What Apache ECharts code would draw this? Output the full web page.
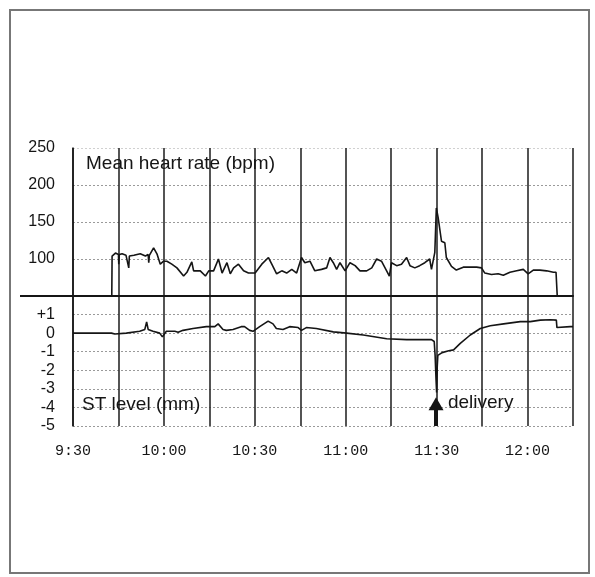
<!DOCTYPE html>
<html>
<head>
  <meta charset="utf-8" />
  <script src="https://cdn.jsdelivr.net/npm/echarts@6/dist/echarts.min.js"></script>
  <style>
    html, body {
      margin: 0;
      padding: 0;
      background: #fff;
    }
    .paper {
      position: absolute;
      left: 9px;
      top: 9px;
      width: 577px;
      height: 561px;
      border: 2px solid #777;
    }
    #main {
      position: absolute;
      left: 0;
      top: 0;
      width: 595px;
      height: 577px;
    }
  </style>
  <title>Heart rate and ST level</title>
</head>
<body>
  <div class="paper"></div>
  <div id="main"></div>
  <script>
    // minutes after 9:30
    var hrTime = [12.8, 12.9, 14.0, 15.0, 15.1, 15.3, 16.2, 17.5, 18.4, 18.6, 20.1, 22.2, 23.9, 24.8, 25.0, 25.2,
      26.6, 27.7, 28.8, 29.9, 31.0, 32.6, 34.3, 36.5, 37.6, 39.2, 39.8, 42.0, 43.7, 44.8, 46.4, 48.0,
      49.2, 50.8, 51.9, 53.0, 54.6, 56.3, 57.9, 60.1, 62.3, 64.5, 65.6, 67.2, 68.9, 70.5, 72.2, 73.8,
      75.4, 76.5, 78.2, 79.8, 82.0, 83.7, 84.8, 85.9, 87.0, 88.1, 89.8, 91.4, 93.1, 94.7, 96.9, 98.6,
      100.2, 101.8, 103.5, 104.4, 105.1, 106.8, 108.4, 110.1, 111.2, 112.8, 114.4, 116.1, 117.7, 118.3,
      119.4, 119.9, 120.5, 121.6, 122.7, 123.2, 124.9, 126.5, 128.8, 131.0, 133.2, 134.8, 135.9, 138.1,
      140.3, 142.0, 144.2, 146.4, 148.6, 150.2, 151.9, 154.1, 156.3, 158.5, 159.4, 159.8];
    var hrValue = [50, 104, 108, 106, 93, 106, 107, 105, 88, 104, 105, 107, 104, 106, 95, 105,
      115, 107, 93, 97, 97, 93, 88, 77, 82, 96, 84, 84, 77, 84, 84, 100,
      81, 95, 80, 88, 93, 84, 81, 81, 93, 102, 93, 80, 84, 81, 86, 81,
      102, 95, 97, 84, 86, 88, 102, 95, 86, 95, 84, 95, 91, 84, 84, 88,
      100, 97, 84, 77, 95, 91, 93, 102, 91, 88, 91, 95, 100, 86,
      109, 169, 156, 124, 122, 102, 90, 85, 89, 89, 89, 88, 81, 79,
      80, 78, 82, 84, 86, 80, 85, 85, 84, 82, 82, 50];

    var stTime = [0, 12.7, 13.8, 17.6, 22, 23.7, 24.3, 24.8, 26.4, 28.6, 29.5, 30.8, 33.6, 34.7, 36.3, 39.6,
      44, 46.8, 47.9, 49.5, 50.6, 52.8, 55.5, 56.6, 58.3, 59.4, 61.6, 64.4, 66, 67.1, 69.3, 71.5,
      74.3, 75.4, 77, 80.3, 85.9, 90.3, 95.8, 103.5, 110.1, 114.5, 118.3, 119.2, 119.5, 119.8,
      120.0, 120.2, 120.4, 121.8, 124, 125.6, 127.8, 131.1, 134.4, 137.7, 142.1, 147.6, 150.9, 154.2,
      157.5, 159.5, 159.7, 164.1, 165];
    var stValue = [0, 0, -0.05, 0, 0.1, 0.2, 0.6, 0.2, 0.1, 0, -0.2, 0.1, 0.1, 0.05, 0.15, 0.25,
      0.35, 0.35, 0.5, 0.2, 0.15, 0.2, 0.35, 0.35, 0.15, 0.1, 0.35, 0.65, 0.5, 0.25, 0.2, 0.35,
      0.3, 0.15, 0.3, 0.25, 0.07, 0, -0.1, -0.3, -0.35, -0.35, -0.35, -0.45, -1.2, -2.5,
      -3.2, -1.8, -1.2, -1.05, -0.95, -0.9, -0.55, -0.1, 0.25, 0.4, 0.5, 0.62, 0.62, 0.7,
      0.72, 0.7, 0.3, 0.35, 0.35];

    var hrTicks = [50, 250, 50];   // min, max, step
    var stTicks = [-5, 2, 1];
    var deliveryAt = 119.8;

    function pairs(xs, ys) {
      var out = [];
      for (var i = 0; i < xs.length; i++) out.push([xs[i], ys[i]]);
      return out;
    }

    function clock(v) {
      var m = 9 * 60 + 30 + v;
      var h = Math.floor(m / 60), mm = m % 60;
      return h + ':' + (mm < 10 ? '0' : '') + mm;
    }

    var ink = '#151515';
    var dotted = '#9a9a9a';

    var xBase = {
      type: 'value',
      min: 0,
      max: 165,
      interval: 15,
      axisTick: { show: false },
      splitLine: { show: true, lineStyle: { color: '#2a2a2a', width: 1.6 } }
    };

    var myChart = echarts.init(document.getElementById('main'));
    var option = {
      animation: false,
      title: [{
        text: 'Mean heart rate (bpm)',
        left: 86,
        top: 154,
        padding: 0,
        textStyle: { fontSize: 19, fontWeight: 'normal', fontFamily: 'Liberation Sans', color: ink }
      }, {
        text: 'ST level (mm)',
        left: 82,
        top: 395,
        padding: 0,
        textStyle: { fontSize: 19, fontWeight: 'normal', fontFamily: 'Liberation Sans', color: ink }
      }],
      grid: [
        { left: 73, top: 148, width: 500, height: 148 },
        { left: 73, top: 296, width: 500, height: 130 }
      ],
      xAxis: [
        Object.assign({}, xBase, {
          gridIndex: 0,
          axisLabel: { show: false },
          axisLine: { show: true, lineStyle: { color: ink, width: 2 } }
        }),
        Object.assign({}, xBase, {
          gridIndex: 1,
          axisLine: { show: false },
          axisLabel: {
            margin: 18,
            fontSize: 15,
            fontFamily: 'Liberation Mono',
            color: ink,
            formatter: function (v) { return v % 30 === 0 ? clock(v) : ''; }
          }
        })
      ],
      yAxis: [{
        gridIndex: 0,
        type: 'value',
        min: hrTicks[0],
        max: hrTicks[1],
        interval: hrTicks[2],
        axisLine: { show: true, lineStyle: { color: ink, width: 1.5 } },
        axisTick: { show: false },
        axisLabel: {
          margin: 18,
          fontSize: 16,
          fontFamily: 'Liberation Sans',
          color: ink,
          formatter: function (v) { return v === hrTicks[0] ? '' : v; }
        },
        splitLine: {
          lineStyle: { type: [2, 2], width: 1, color: ['transparent', dotted, dotted, dotted, '#d0d0d0'] }
        }
      }, {
        gridIndex: 1,
        type: 'value',
        min: stTicks[0],
        max: stTicks[1],
        interval: stTicks[2],
        axisLine: { show: true, lineStyle: { color: ink, width: 1.5 } },
        axisTick: { show: false },
        axisLabel: {
          margin: 18,
          fontSize: 16,
          fontFamily: 'Liberation Sans',
          color: ink,
          formatter: function (v) {
            if (v === stTicks[1]) return '';
            return v > 0 ? '+' + v : '' + v;
          }
        },
        splitLine: {
          lineStyle: {
            type: [2, 2], width: 1,
            color: [dotted, dotted, dotted, dotted, dotted, dotted, dotted, 'transparent']
          }
        }
      }],
      graphic: [{
        type: 'line',
        shape: { x1: 20, y1: 296, x2: 73, y2: 296 },
        style: { stroke: ink, lineWidth: 2 }
      }],
      series: [{
        name: 'Mean heart rate',
        type: 'line',
        xAxisIndex: 0,
        yAxisIndex: 0,
        showSymbol: false,
        lineStyle: { color: ink, width: 1.6 },
        data: pairs(hrTime, hrValue)
      }, {
        name: 'ST level',
        type: 'line',
        xAxisIndex: 1,
        yAxisIndex: 1,
        showSymbol: false,
        lineStyle: { color: ink, width: 1.6 },
        data: pairs(stTime, stValue),
        markLine: {
          silent: true,
          symbol: ['none', 'triangle'],
          symbolSize: [15, 13],
          label: { show: false },
          lineStyle: { color: ink, width: 4, type: 'solid' },
          data: [[{ coord: [deliveryAt, -5] }, { coord: [deliveryAt, -3.8] }]]
        },
        markPoint: {
          silent: true,
          symbol: 'circle',
          symbolSize: 0,
          label: {
            show: true,
            position: 'right',
            distance: 4,
            formatter: 'delivery',
            fontSize: 19,
            fontFamily: 'Liberation Sans',
            color: ink
          },
          data: [{ coord: [122.4, -3.76] }]
        }
      }]
    };
    myChart.setOption(option);
  </script>
</body>
</html>
